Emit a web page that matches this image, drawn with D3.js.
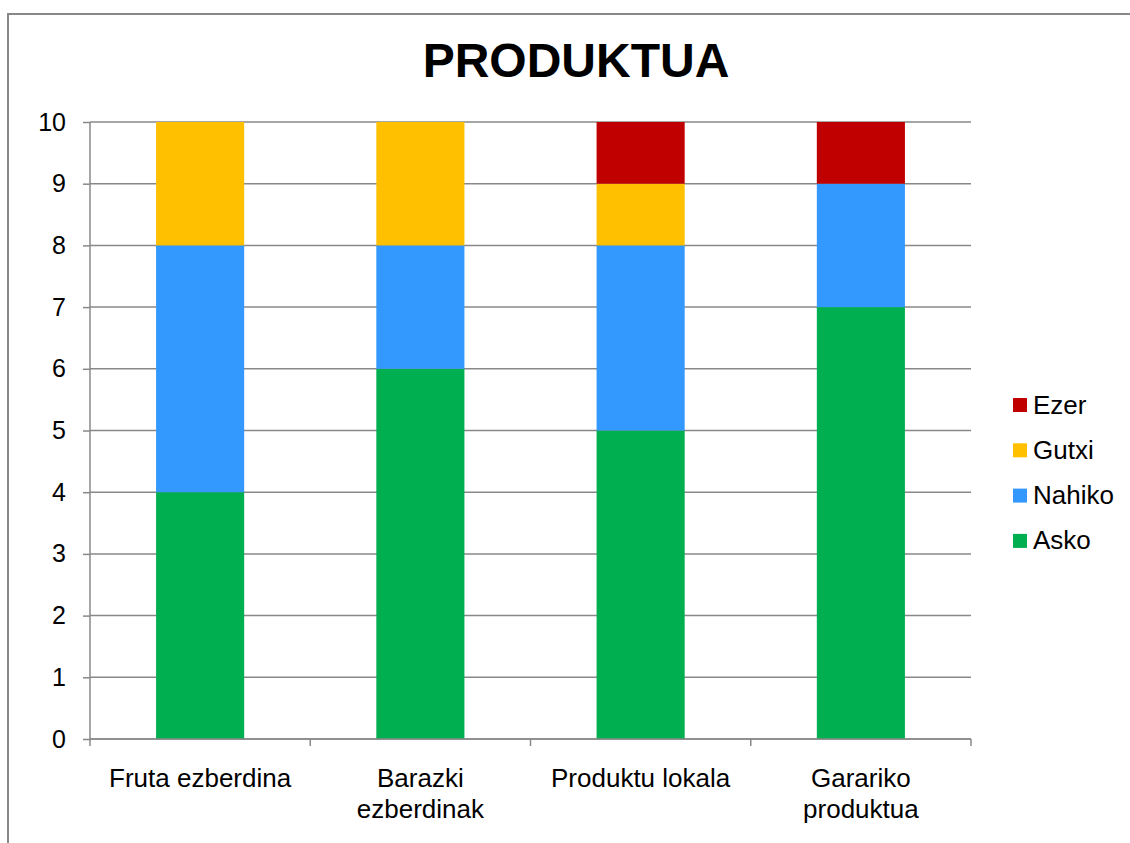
<!DOCTYPE html>
<html>
<head>
<meta charset="utf-8">
<script src="https://cdn.jsdelivr.net/npm/d3@7"></script>
<style>
  html, body { margin: 0; padding: 0; background: #fff; }
  svg { display: block; font-family: "Liberation Sans", Arial, sans-serif; }
</style>
</head>
<body>
<svg id="chart" width="1130" height="843"></svg>
<script>
// Categories (label lines) and stacked series values
const categories = [
  ["Fruta ezberdina"],
  ["Barazki", "ezberdinak"],
  ["Produktu lokala"],
  ["Garariko", "produktua"]
];
const asko   = [4, 6, 5, 7];
const nahiko = [4, 2, 3, 2];
const gutxi  = [2, 2, 1, 0];
const ezer   = [0, 0, 1, 1];
const seriesNames = ["Asko", "Nahiko", "Gutxi", "Ezer"];
const seriesColors = ["#00B050", "#3399FF", "#FFC000", "#C00000"];
const yTicks = [0, 1, 2, 3, 4, 5, 6, 7, 8, 9, 10];
const title = "PRODUKTUA";

const rows = categories.map((c, i) => ({
  key: c.join(" "),
  Asko: asko[i], Nahiko: nahiko[i], Gutxi: gutxi[i], Ezer: ezer[i]
}));

const svg = d3.select("#chart");
const margin = { left: 90, right: 159, top: 122, bottom: 104 };
const W = 1130, H = 843;
const innerW = W - margin.left - margin.right;
const innerH = H - margin.top - margin.bottom;

// Outer chart frame
svg.append("rect")
  .attr("x", 8).attr("y", 14)
  .attr("width", 1140).attr("height", 860)
  .attr("fill", "none").attr("stroke", "#888").attr("stroke-width", 2);

const x = d3.scaleBand().domain(rows.map(d => d.key)).range([0, innerW]).paddingInner(0.6).paddingOuter(0.3);
const y = d3.scaleLinear().domain([0, 10]).range([innerH, 0]);

const g = svg.append("g").attr("transform", `translate(${margin.left},${margin.top})`);

// Horizontal gridlines
g.append("g").selectAll("line").data(yTicks).join("line")
  .attr("x1", 0).attr("x2", innerW)
  .attr("y1", d => y(d)).attr("y2", d => y(d))
  .attr("stroke", "#888").attr("stroke-width", 1.5);

// Stacked bars
const stack = d3.stack().keys(seriesNames)(rows);
g.append("g").selectAll("g").data(stack).join("g")
  .attr("fill", (d, i) => seriesColors[i])
  .selectAll("rect").data(d => d).join("rect")
  .attr("x", d => x(d.data.key))
  .attr("width", x.bandwidth())
  .attr("y", d => y(d[1]))
  .attr("height", d => y(d[0]) - y(d[1]));

// Y axis
const yAxis = g.append("g")
  .call(d3.axisLeft(y).tickValues(yTicks).tickSize(7).tickPadding(17).tickFormat(d3.format("d")));
yAxis.select(".domain").attr("stroke", "#888").attr("stroke-width", 1.5).attr("d", `M0,${innerH}V0`);
yAxis.selectAll(".tick line").attr("stroke", "#888").attr("stroke-width", 1.5);
yAxis.selectAll(".tick text").attr("font-size", 25).attr("fill", "#000")
  .attr("font-family", "Liberation Sans, Arial, sans-serif");

// X axis: boundary ticks between categories
const xa = g.append("g").attr("transform", `translate(0,${innerH})`);
const step = x.step();
const bounds = d3.range(rows.length + 1).map(i => i * innerW / rows.length);
xa.append("line").attr("x1", 0).attr("x2", innerW).attr("y1", 0).attr("y2", 0)
  .attr("stroke", "#888").attr("stroke-width", 1.5);
xa.selectAll("line.tk").data(bounds).join("line").attr("class", "tk")
  .attr("x1", d => d).attr("x2", d => d).attr("y1", 0).attr("y2", 7)
  .attr("stroke", "#888").attr("stroke-width", 1.5);

// Category labels
const lbl = xa.selectAll("text.cat").data(rows).join("text").attr("class", "cat")
  .attr("text-anchor", "middle").attr("font-size", 26).attr("fill", "#000")
  .attr("transform", d => `translate(${x(d.key) + x.bandwidth() / 2},48)`);
lbl.selectAll("tspan").data((d, i) => categories[i]).join("tspan")
  .attr("x", 0).attr("dy", (d, i) => i === 0 ? 0 : 31).text(d => d);

// Title
svg.append("text").attr("x", 576).attr("y", 77).attr("text-anchor", "middle")
  .attr("font-size", 48).attr("font-weight", "bold").attr("fill", "#000").text(title);

// Legend (top entry is the top of the stack)
const legendItems = seriesNames.map((n, i) => ({ name: n, color: seriesColors[i] })).reverse();
const lg = svg.append("g").attr("transform", "translate(1013,398)");
const li = lg.selectAll("g").data(legendItems).join("g")
  .attr("transform", (d, i) => `translate(0,${i * 45.3})`);
li.append("rect").attr("width", 14).attr("height", 14).attr("fill", d => d.color);
li.append("text").attr("x", 20).attr("y", 15.5).attr("font-size", 26).attr("fill", "#000").text(d => d.name);
</script>
</body>
</html>
